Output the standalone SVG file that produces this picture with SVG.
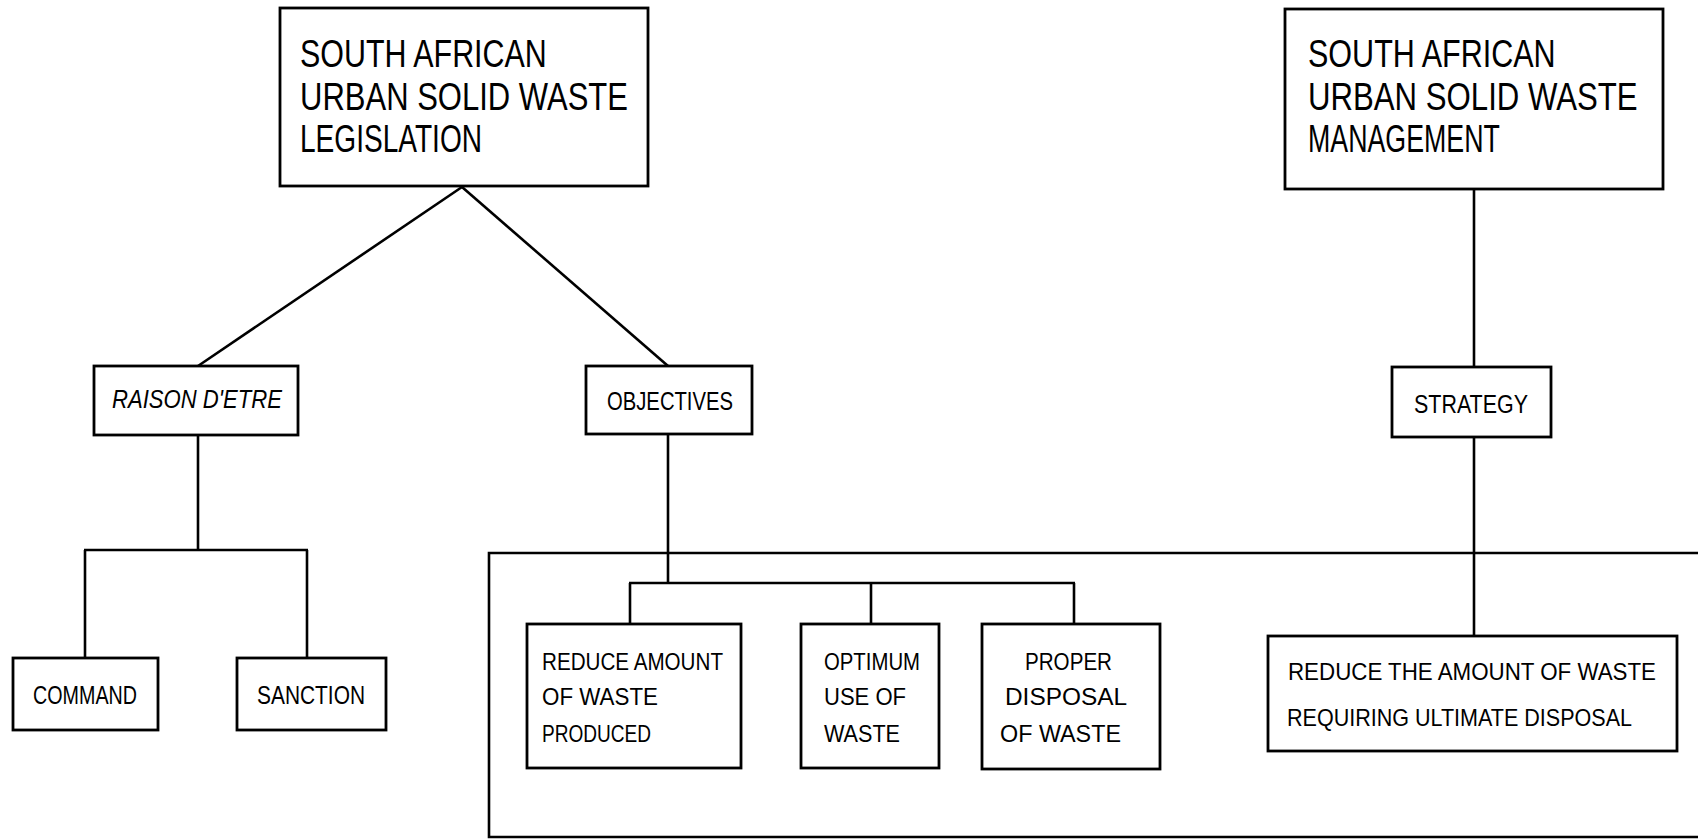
<svg xmlns="http://www.w3.org/2000/svg" width="1698" height="839" viewBox="0 0 1698 839">
<style>
rect.box{fill:#fff;stroke:#000;stroke-width:2.8}
.conn line,.conn path{stroke:#000;stroke-width:2.6;fill:none}
text{font-family:"Liberation Sans",Arial,sans-serif;fill:#000}
.big{font-size:38px}
.mid{font-size:25px}
.sm{font-size:24px}
</style>
<rect width="1698" height="839" fill="#fff"/>
<g class="conn" id="connectors">
<line x1="462" y1="187" x2="198" y2="366"/>
<line x1="462" y1="187" x2="668" y2="366"/>
<line x1="198" y1="435" x2="198" y2="550"/>
<line x1="84" y1="550" x2="308" y2="550"/>
<line x1="85" y1="550" x2="85" y2="658"/>
<line x1="307" y1="550" x2="307" y2="658"/>
<line x1="668" y1="434" x2="668" y2="583"/>
<line x1="629" y1="583" x2="1075" y2="583"/>
<line x1="630" y1="583" x2="630" y2="624"/>
<line x1="871" y1="583" x2="871" y2="624"/>
<line x1="1074" y1="583" x2="1074" y2="624"/>
<line x1="1474" y1="189" x2="1474" y2="367"/>
<line x1="1474" y1="437" x2="1474" y2="636"/>
<path d="M1698,553 H489 V837 H1698"/>
</g>
<g id="legislation">
<rect class="box" x="280" y="8" width="368" height="178"/>
<text class="big" transform="translate(300,67) scale(0.82,1)" textLength="301" lengthAdjust="spacingAndGlyphs">SOUTH AFRICAN</text>
<text class="big" transform="translate(300,110) scale(0.82,1)" textLength="400" lengthAdjust="spacingAndGlyphs">URBAN SOLID WASTE</text>
<text class="big" transform="translate(300,152) scale(0.82,1)" textLength="222" lengthAdjust="spacingAndGlyphs">LEGISLATION</text>
</g>
<g id="management">
<rect class="box" x="1285" y="9" width="378" height="180"/>
<text class="big" transform="translate(1308,67) scale(0.82,1)" textLength="302" lengthAdjust="spacingAndGlyphs">SOUTH AFRICAN</text>
<text class="big" transform="translate(1308,110) scale(0.82,1)" textLength="402" lengthAdjust="spacingAndGlyphs">URBAN SOLID WASTE</text>
<text class="big" transform="translate(1308,152) scale(0.82,1)" textLength="234" lengthAdjust="spacingAndGlyphs">MANAGEMENT</text>
</g>
<g id="raison">
<rect class="box" x="94" y="366" width="204" height="69"/>
<text class="mid" x="112" y="408" font-style="italic" textLength="170" lengthAdjust="spacingAndGlyphs">RAISON D'ETRE</text>
</g>
<g id="objectives">
<rect class="box" x="586" y="366" width="166" height="68"/>
<text class="mid" x="607" y="410" textLength="126" lengthAdjust="spacingAndGlyphs">OBJECTIVES</text>
</g>
<g id="strategy">
<rect class="box" x="1392" y="367" width="159" height="70"/>
<text class="mid" x="1414" y="413" textLength="114" lengthAdjust="spacingAndGlyphs">STRATEGY</text>
</g>
<g id="command">
<rect class="box" x="13" y="658" width="145" height="72"/>
<text class="mid" x="33" y="704" textLength="104" lengthAdjust="spacingAndGlyphs">COMMAND</text>
</g>
<g id="sanction">
<rect class="box" x="237" y="658" width="149" height="72"/>
<text class="mid" x="257" y="704" textLength="108" lengthAdjust="spacingAndGlyphs">SANCTION</text>
</g>
<g id="reduce-amount">
<rect class="box" x="527" y="624" width="214" height="144"/>
<text class="sm" x="542" y="670" textLength="181" lengthAdjust="spacingAndGlyphs">REDUCE AMOUNT</text>
<text class="sm" x="542" y="705" textLength="116" lengthAdjust="spacingAndGlyphs">OF WASTE</text>
<text class="sm" x="542" y="742" textLength="109" lengthAdjust="spacingAndGlyphs">PRODUCED</text>
</g>
<g id="optimum-use">
<rect class="box" x="801" y="624" width="138" height="144"/>
<text class="sm" x="824" y="670" textLength="96" lengthAdjust="spacingAndGlyphs">OPTIMUM</text>
<text class="sm" x="824" y="705" textLength="82" lengthAdjust="spacingAndGlyphs">USE OF</text>
<text class="sm" x="824" y="742" textLength="76" lengthAdjust="spacingAndGlyphs">WASTE</text>
</g>
<g id="proper-disposal">
<rect class="box" x="982" y="624" width="178" height="145"/>
<text class="sm" x="1025" y="670" textLength="87" lengthAdjust="spacingAndGlyphs">PROPER</text>
<text class="sm" x="1005" y="705" textLength="122" lengthAdjust="spacingAndGlyphs">DISPOSAL</text>
<text class="sm" x="1000" y="742" textLength="121" lengthAdjust="spacingAndGlyphs">OF WASTE</text>
</g>
<g id="reduce-ultimate">
<rect class="box" x="1268" y="636" width="409" height="115"/>
<text class="sm" x="1288" y="680" textLength="368" lengthAdjust="spacingAndGlyphs">REDUCE THE AMOUNT OF WASTE</text>
<text class="sm" x="1287" y="726" textLength="345" lengthAdjust="spacingAndGlyphs">REQUIRING ULTIMATE DISPOSAL</text>
</g>
</svg>
